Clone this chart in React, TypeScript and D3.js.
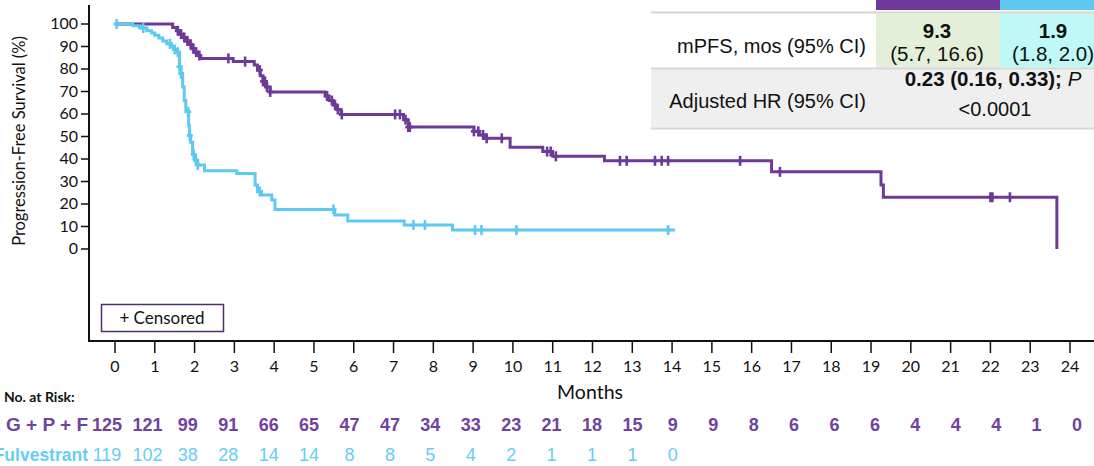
import React from "react";
import * as d3 from "d3";

const W = 1094;
const H = 466;

const PURPLE = "#6d3a97";
const BLUE = "#5ec9f3";
const PURPLE_TEXT = "#7142a0";
const BLUE_TEXT = "#68cdf4";

// Axis ticks
const monthTicks = [0, 1, 2, 3, 4, 5, 6, 7, 8, 9, 10, 11, 12, 13, 14, 15, 16, 17, 18, 19, 20, 21, 22, 23, 24];
const pfsTicks = [0, 10, 20, 30, 40, 50, 60, 70, 80, 90, 100];

// G + P + F: Kaplan-Meier steps (month, PFS % after the event)
const gpfStepTimes = [0, 1.45, 1.55, 1.62, 1.7, 1.78, 1.86, 1.93, 2.0, 2.07, 2.14, 2.97, 3.5, 3.58, 3.65, 3.72, 3.8, 3.9, 5.28, 5.38, 5.48, 5.58, 5.68, 7.25, 7.37, 9.02, 9.15, 9.3, 9.93, 10.75, 11.0, 12.3, 16.5, 19.25, 19.31, 23.67];
const gpfStepSurv = [100, 98.5, 97, 95.5, 94, 92.5, 91, 89, 87.5, 86, 84.7, 83.3, 81.8, 79.5, 77, 74.5, 72, 69.8, 68, 66, 64, 62, 59.8, 57.5, 54.2, 52.3, 50.7, 49.2, 45.2, 43.3, 41.2, 39.2, 34.3, 28.5, 23, 0];
const gpfCensored = [1.58, 1.66, 1.74, 1.82, 1.9, 1.97, 2.04, 2.12, 2.85, 3.27, 3.64, 3.72, 3.77, 3.82, 3.9, 5.33, 5.45, 5.53, 5.6, 5.7, 7.04, 7.16, 7.3, 7.37, 7.41, 9.02, 9.13, 9.25, 9.34, 9.72, 10.86, 10.95, 11.08, 12.69, 12.86, 13.57, 13.74, 13.9, 15.71, 16.71, 22.0, 22.05, 22.49];
const gpfEnd = 23.67;

// Fulvestrant: Kaplan-Meier steps (month, PFS % after the event)
const fulvStepTimes = [0, 0.45, 0.62, 0.8, 0.92, 1.0, 1.1, 1.2, 1.3, 1.42, 1.48, 1.56, 1.62, 1.66, 1.7, 1.74, 1.78, 1.85, 1.87, 1.9, 1.95, 2.0, 2.08, 2.25, 3.06, 3.52, 3.58, 3.68, 3.94, 4.02, 5.52, 5.85, 7.27, 8.48];
const fulvStepSurv = [100, 99.2, 98.2, 97, 96, 95, 93.8, 92.5, 91.2, 90, 88.7, 87.5, 81, 78, 72, 66, 61, 55, 50.5, 47.5, 42, 39.5, 37.3, 34.8, 33.6, 28.4, 25.5, 24, 21.8, 17.6, 15.1, 12.4, 10.7, 8.4];
const fulvCensored = [0.04, 0.71, 1.38, 1.5, 1.58, 1.62, 1.66, 1.84, 1.88, 1.98, 2.03, 2.08, 3.64, 5.49, 7.5, 7.79, 9.05, 9.21, 10.09, 13.9];
const fulvEnd = 14.07;

// Number at risk, one value per month tick
const gpfAtRisk = [125, 121, 99, 91, 66, 65, 47, 47, 34, 33, 23, 21, 18, 15, 9, 9, 8, 6, 6, 6, 4, 4, 4, 1, 0];
const fulvAtRisk = [119, 102, 38, 28, 14, 14, 8, 8, 5, 4, 2, 1, 1, 1, 0];

type Pt = [number, number];

function survAt(times: number[], surv: number[], t: number): number {
  let v = surv[0];
  for (let i = 0; i < times.length; i++) {
    if (times[i] <= t) v = surv[i];
  }
  return v;
}

function curvePoints(times: number[], surv: number[], end: number): Pt[] {
  const pts: Pt[] = times.map((t, i) => [t, surv[i]] as Pt);
  const last = times[times.length - 1];
  if (end > last) pts.push([end, surv[surv.length - 1]]);
  return pts;
}

const SANS = "Lato, 'Noto Sans', sans-serif";
const ARIAL = "'Liberation Sans', Arial, sans-serif";

export default function App() {
  const x = d3.scaleLinear().domain([0, 24]).range([115, 1070]);
  const y = d3.scaleLinear().domain([0, 100]).range([249, 24]);
  const xRisk = d3.scaleLinear().domain([0, 24]).range([107, 1077]);

  const line = d3
    .line<Pt>()
    .x((d) => x(d[0]))
    .y((d) => y(d[1]))
    .curve(d3.curveStepAfter);

  const gpfPath = line(curvePoints(gpfStepTimes, gpfStepSurv, gpfEnd)) || "";
  const fulvPath = line(curvePoints(fulvStepTimes, fulvStepSurv, fulvEnd)) || "";

  const censorMark = (t: number, s: number, color: string, key: string) => {
    const cx = x(t);
    const cy = y(s);
    return (
      <g key={key} stroke={color} strokeWidth={2.6}>
        <line x1={cx} x2={cx} y1={cy - 5} y2={cy + 5} />
        <line x1={cx - 3} x2={cx + 3} y1={cy} y2={cy} />
      </g>
    );
  };

  const axisY = 341;
  const axisX = 89;

  return (
    <svg
      width={W}
      height={H}
      viewBox={`0 0 ${W} ${H}`}
      style={{ position: "absolute", left: 0, top: 0, background: "#fff" }}
    >
      <rect x={0} y={0} width={W} height={H} fill="#fff" />

      {/* Summary table */}
      <g>
        <rect x={876} y={0} width={124} height={10} fill="#6f3899" />
        <rect x={1000} y={0} width={130} height={10} fill="#5fc9f1" />
        <rect x={876} y={13.5} width={124} height={54} fill="#e4efda" />
        <rect x={1000} y={13.5} width={130} height={54} fill="#bff8f6" />
        <rect x={651} y={69.5} width={480} height={58} fill="#efefef" />
        <line x1={651} x2={W} y1={12.5} y2={12.5} stroke="#d6d6d6" strokeWidth={2} />
        <line x1={651} x2={W} y1={68.5} y2={68.5} stroke="#d6d6d6" strokeWidth={2} />
        <line x1={651} x2={W} y1={128.5} y2={128.5} stroke="#d6d6d6" strokeWidth={2} />
        <text x={866} y={53} textAnchor="end" fontFamily={ARIAL} fontSize={20} fill="#111">
          mPFS, mos (95% CI)
        </text>
        <text x={937} y={38} textAnchor="middle" fontFamily={ARIAL} fontSize={20.5} fontWeight="bold" fill="#111">
          9.3
        </text>
        <text x={937} y={61} textAnchor="middle" fontFamily={ARIAL} fontSize={20.5} fill="#111">
          (5.7, 16.6)
        </text>
        <text x={1053} y={38} textAnchor="middle" fontFamily={ARIAL} fontSize={20.5} fontWeight="bold" fill="#111">
          1.9
        </text>
        <text x={1053} y={61} textAnchor="middle" fontFamily={ARIAL} fontSize={20.5} fill="#111">
          (1.8, 2.0)
        </text>
        <text x={866} y={108} textAnchor="end" fontFamily={ARIAL} fontSize={20} fill="#111">
          Adjusted HR (95% CI)
        </text>
        <text x={993} y={86} textAnchor="middle" fontFamily={ARIAL} fontSize={20.5} fill="#111">
          <tspan fontWeight="bold">0.23 (0.16, 0.33); </tspan>
          <tspan fontStyle="italic">P</tspan>
        </text>
        <text x={995} y={116} textAnchor="middle" fontFamily={ARIAL} fontSize={20} fill="#111">
          {"<0.0001"}
        </text>
      </g>

      {/* Axes */}
      <line x1={axisX} x2={axisX} y1={5} y2={axisY + 1} stroke="#111" strokeWidth={2} />
      <line x1={axisX - 1} x2={W} y1={axisY} y2={axisY} stroke="#111" strokeWidth={2} />

      {pfsTicks.map((v) => (
        <g key={`yt${v}`}>
          <line x1={axisX - 8} x2={axisX} y1={y(v)} y2={y(v)} stroke="#111" strokeWidth={1.5} />
          <text
            x={78}
            y={y(v) + 5}
            textAnchor="end"
            fontFamily={SANS}
            fontSize={16}
            fill="#111"
          >
            {v}
          </text>
        </g>
      ))}

      {monthTicks.map((m) => (
        <g key={`xt${m}`}>
          <line x1={x(m)} x2={x(m)} y1={axisY} y2={axisY + 12} stroke="#111" strokeWidth={1.5} />
          <text x={x(m)} y={372} textAnchor="middle" fontFamily={SANS} fontSize={16} fill="#111">
            {m}
          </text>
        </g>
      ))}

      <text
        transform="translate(25,141) rotate(-90)"
        textAnchor="middle"
        fontFamily={SANS}
        fontSize={16.5}
        fill="#111"
      >
        Progression-Free Survival (%)
      </text>
      <text x={590} y={399} textAnchor="middle" fontFamily={SANS} fontSize={19.5} fill="#111">
        Months
      </text>

      {/* Kaplan-Meier curves */}
      <path d={gpfPath} fill="none" stroke={PURPLE} strokeWidth={3} />
      {gpfCensored.map((t, i) => censorMark(t, survAt(gpfStepTimes, gpfStepSurv, t), PURPLE, `gc${i}`))}
      <path d={fulvPath} fill="none" stroke={BLUE} strokeWidth={3} />
      {fulvCensored.map((t, i) => censorMark(t, survAt(fulvStepTimes, fulvStepSurv, t), BLUE, `fc${i}`))}

      {/* Censored legend */}
      <rect x={101.5} y={304.5} width={122} height={27} fill="#fff" stroke="#4e306f" strokeWidth={1.5} />
      <text x={162} y={324} textAnchor="middle" fontFamily={SANS} fontSize={17} fill="#111">
        + Censored
      </text>

      {/* Number at risk */}
      <text x={4} y={402} fontFamily={SANS} fontSize={14} fontWeight="bold" fill="#111">
        No. at Risk:
      </text>
      <text x={88} y={431} textAnchor="end" fontFamily={ARIAL} fontSize={19} fontWeight="bold" fill={PURPLE_TEXT}>
        G + P + F
      </text>
      <text x={88} y={461} textAnchor="end" fontFamily={ARIAL} fontSize={17.5} fontWeight="bold" fill={BLUE_TEXT}>
        Fulvestrant
      </text>
      {gpfAtRisk.map((n, i) => (
        <text
          key={`ga${i}`}
          x={xRisk(monthTicks[i])}
          y={431}
          textAnchor="middle"
          fontFamily={ARIAL}
          fontSize={18}
          fontWeight="bold"
          fill={PURPLE_TEXT}
        >
          {n}
        </text>
      ))}
      {fulvAtRisk.map((n, i) => (
        <text
          key={`fa${i}`}
          x={xRisk(monthTicks[i])}
          y={461}
          textAnchor="middle"
          fontFamily={ARIAL}
          fontSize={18}
          fill={BLUE_TEXT}
        >
          {n}
        </text>
      ))}
    </svg>
  );
}
